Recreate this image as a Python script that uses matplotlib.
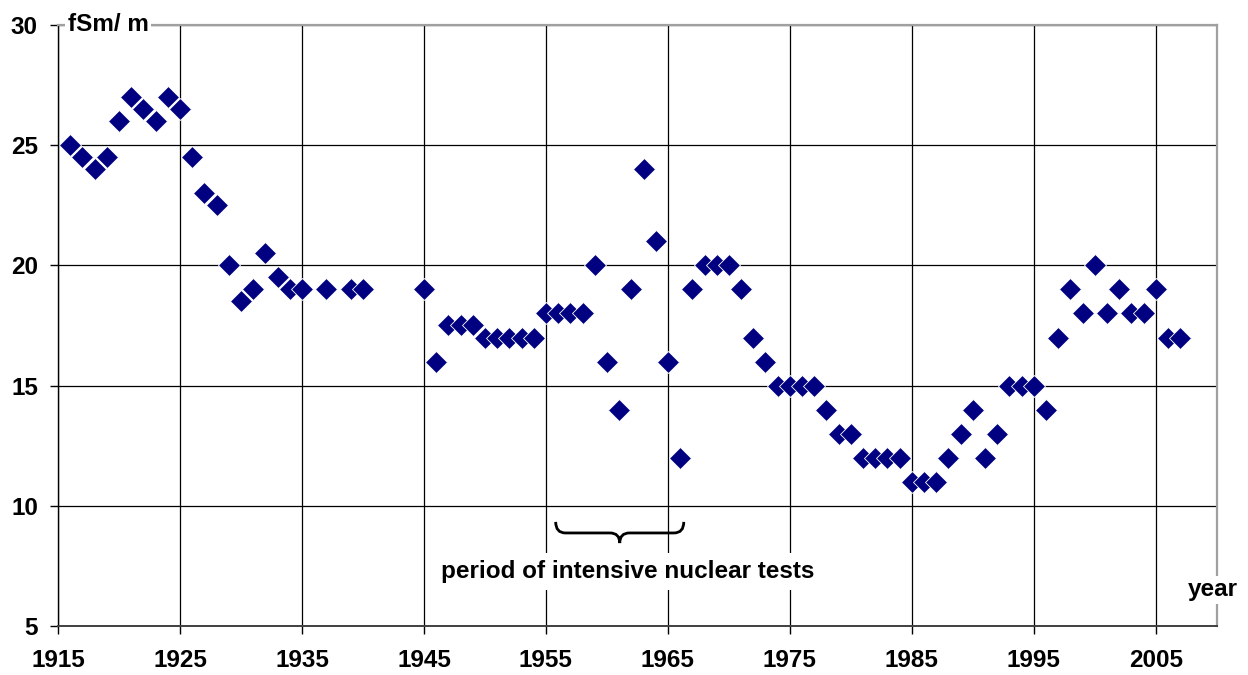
import numpy as np
import matplotlib.pyplot as plt
from matplotlib.path import Path
from matplotlib.patches import PathPatch

years = [1916, 1917, 1918, 1919, 1920, 1921, 1922, 1923, 1924, 1925,
         1926, 1927, 1928, 1929, 1930, 1931, 1932, 1933, 1934, 1935,
         1937, 1939, 1940,
         1945, 1946, 1947, 1948, 1949, 1950, 1951, 1952, 1953, 1954,
         1955, 1956, 1957, 1958, 1959, 1960, 1961, 1962, 1963, 1964,
         1965, 1966, 1967, 1968, 1969, 1970, 1971, 1972, 1973, 1974,
         1975, 1976, 1977, 1978, 1979, 1980, 1981, 1982, 1983, 1984,
         1985, 1986, 1987, 1988, 1989, 1990, 1991, 1992, 1993, 1994,
         1995, 1996, 1997, 1998, 1999, 2000, 2001, 2002, 2003, 2004,
         2005, 2006, 2007]
values = [25, 24.5, 24, 24.5, 26, 27, 26.5, 26, 27, 26.5,
          24.5, 23, 22.5, 20, 18.5, 19, 20.5, 19.5, 19, 19,
          19, 19, 19,
          19, 16, 17.5, 17.5, 17.5, 17, 17, 17, 17, 17,
          18, 18, 18, 18, 20, 16, 14, 19, 24, 21,
          16, 12, 19, 20, 20, 20, 19, 17, 16, 15,
          15, 15, 15, 14, 13, 13, 12, 12, 12, 12,
          11, 11, 11, 12, 13, 14, 12, 13, 15, 15,
          15, 14, 17, 19, 18, 20, 18, 19, 18, 18,
          19, 17, 17]

x_ticks = list(range(1915, 2006, 10))
y_ticks = [5, 10, 15, 20, 25, 30]

tests_start = 1955.8
tests_end = 1966.3

FONT = 'Liberation Sans'
FS = 17.5


def underbrace(ax, x0, x1, y_top, y_mid, y_tip, r=0.8):
    xc = (x0 + x1) / 2
    verts = [(x0, y_top), (x0, y_mid), (x0 + r, y_mid),
             (xc - r, y_mid), (xc, y_mid), (xc, y_tip),
             (xc, y_mid), (xc + r, y_mid),
             (x1 - r, y_mid), (x1, y_mid), (x1, y_top)]
    codes = [Path.MOVETO, Path.CURVE3, Path.CURVE3,
             Path.LINETO, Path.CURVE3, Path.CURVE3,
             Path.CURVE3, Path.CURVE3,
             Path.LINETO, Path.CURVE3, Path.CURVE3]
    ax.add_patch(PathPatch(Path(verts, codes), fill=False, lw=2.0,
                           edgecolor='black', zorder=4))


fig = plt.figure(figsize=(12.48, 6.75), dpi=100)
ax = fig.add_axes([0.0465, 0.0726, 0.9285, 0.8904])

ax.plot(years, values, ls='none', marker='D', markersize=10.8,
        color='#000080', markeredgecolor='white', markeredgewidth=0.6,
        zorder=5)

ax.set_xlim(1915, 2010)
ax.set_ylim(5, 30)
ax.set_xticks(x_ticks)
ax.set_yticks(y_ticks)
ax.grid(True, color='black', lw=0.9)
ax.set_axisbelow(True)

for side in ['top', 'right']:
    ax.spines[side].set_color('#a0a0a0')
    ax.spines[side].set_linewidth(1.6)
ax.spines['left'].set_color('black')
ax.spines['left'].set_linewidth(1.0)
ax.spines['bottom'].set_color('#404040')
ax.spines['bottom'].set_linewidth(1.4)

ax.tick_params(axis='both', direction='out', length=5.5, width=1,
               color='black')
ax.tick_params(axis='y', pad=9)
ax.tick_params(axis='x', pad=11)
for lab in ax.get_xticklabels() + ax.get_yticklabels():
    lab.set_fontfamily(FONT)
    lab.set_fontweight('bold')
    lab.set_fontsize(FS)

box = dict(facecolor='white', edgecolor='none', pad=2)
ax.text(1915.8, 30, 'fSm/ m', ha='left', va='center', fontsize=FS,
        fontweight='bold', family=FONT, bbox=box, zorder=6, clip_on=False)
ax.text(2009.7, 6.5, 'year', ha='center', va='center', fontsize=FS,
        fontweight='bold', family=FONT, bbox=box, zorder=6, clip_on=False)
ax.text(1961.7, 7.25, 'period of intensive nuclear tests', ha='center',
        va='center', fontsize=FS, fontweight='bold', family=FONT,
        bbox=dict(facecolor='white', edgecolor='none', pad=5), zorder=6)

underbrace(ax, tests_start, tests_end, 9.33, 8.87, 8.45)

fig.savefig('out.png', dpi=100)
